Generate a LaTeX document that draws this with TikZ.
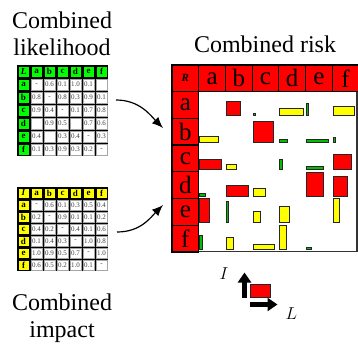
\documentclass[tikz,border=0pt]{standalone}
\usepackage{fontspec}
\setmainfont{Liberation Serif}
\usetikzlibrary{arrows.meta}
\definecolor{hdrgreen}{RGB}{0,255,0}
\definecolor{hdryellow}{RGB}{255,255,0}
\definecolor{riskred}{RGB}{255,0,0}
\definecolor{riskgreen}{RGB}{0,190,0}
\tikzset{
  >=latex,
  title/.style={font=\fontsize{24}{27}\selectfont, align=center, inner sep=0pt},
  tcell/.style={draw=gray!70, line width=.5pt, fill=white, inner sep=0pt,
    minimum width=11pt, minimum height=11pt, font=\fontsize{7}{8}\selectfont, text=black!75},
  thead/.style={tcell, draw=black, font=\fontsize{9}{10}\selectfont\bfseries, text=black},
  rhead/.style={draw=black, line width=1.2pt, fill=riskred, minimum size=26.7pt,
    inner sep=0pt, font=\fontsize{25}{27}\selectfont},
  bar/.style={draw=black!85, line width=.7pt},
  bigarrow/.style={line width=4.5pt, -{Triangle[length=10pt,width=13pt]}},
  linkarrow/.style={line width=1.2pt, -{Latex[length=11pt,width=9pt]}},
}

\begin{document}
\begin{tikzpicture}[x=1pt,y=-1pt]
  \useasboundingbox (0,0) rectangle (358,347);
  % titles
  \node[title, anchor=north] (lk-title) at (62,11.6) {Combined\\likelihood};
  \node[title, anchor=north] (im-title) at (62,293.6) {Combined\\impact};
  \node[title, anchor=base] (rk-title) at (265,53) {Combined risk};

  % likelihood table
  \fill (17,65) rectangle (108,156);
  \node[thead, fill=hdrgreen] (L-0-0) at (23.5,71.5) {\itshape L};
  \foreach \c [count=\j] in {a,...,f} {
    \node[thead, fill=hdrgreen] (L-0-\j) at ({23.5+13*\j},71.5) {\c};
    \node[thead, fill=hdrgreen] (L-\j-0) at (23.5,{71.5+13*\j}) {\c};
  }
  \foreach \row [count=\i] in {{-,0.6,0.1,1.0,0.1,{}},{0.8,-,0.8,0.3,0.9,0.1},
      {0.9,0.4,-,0.1,0.7,0.8},{{},0.9,0.5,{},0.7,0.6},
      {0.4,{},0.3,0.4,-,0.3},{0.1,0.3,0.9,0.3,0.2,-}}
    \foreach \v [count=\j] in \row
      \node[tcell] (L-\i-\j) at ({23.5+13*\j},{71.5+13*\i}) {\v};

  % impact table
  \fill (17,187) rectangle (108,271);
  \node[thead, fill=hdryellow, minimum height=10pt] (I-0-0) at (23.5,193) {\itshape I};
  \foreach \c [count=\j] in {a,...,f} {
    \node[thead, fill=hdryellow, minimum height=10pt] (I-0-\j) at ({23.5+13*\j},193) {\c};
    \node[thead, fill=hdryellow, minimum height=10pt] (I-\j-0) at (23.5,{193+12*\j}) {\c};
  }
  \foreach \row [count=\i] in {{-,0.6,0.1,0.3,0.5,0.4},{0.2,-,0.9,0.1,0.1,0.2},
      {0.4,0.2,-,0.4,0.1,0.6},{0.1,0.4,0.3,-,1.0,0.8},
      {1.0,0.9,0.5,0.7,-,1.0},{0.6,0.5,0.2,1.0,0.1,-}}
    \foreach \v [count=\j] in \row
      \node[tcell, minimum height=10pt] (I-\i-\j) at ({23.5+13*\j},{193+12*\i}) {\v};

  % risk matrix
  \draw[line width=1.2pt, draw=black!80, fill=white] (198.7,91.7) rectangle (357,251.5);
  \node[rhead, font=\fontsize{11}{12}\selectfont\bfseries\itshape] (R-0-0) at (185.35,78.35) {R};
  \foreach \c [count=\j] in {a,...,f} {
    \node[rhead] (R-0-\j) at ({185.35+26.7*\j},78.35) {\c};
    \node[rhead] (R-\j-0) at (185.35,{78.35+26.7*\j}) {\c};
  }
  \foreach \i/\j/\l/\m/\col in {1/2/.6/.6/riskred, 1/3/.1/.1/riskgreen, 1/4/1/.3/hdryellow,
      1/5/.1/.5/riskgreen, 1/6/.87/.38/hdryellow,
      2/1/.8/.24/hdryellow, 2/3/.84/.88/riskred, 2/4/.3/.12/riskgreen,
      2/5/.9/.12/riskgreen, 2/6/.1/.22/riskgreen,
      3/1/.9/.42/riskred, 3/2/.4/.22/hdryellow, 3/4/.1/.42/riskgreen,
      3/5/.72/.12/riskgreen, 3/6/.78/.62/riskred,
      4/1/.22/.12/riskgreen, 4/2/.9/.42/riskred, 4/3/.52/.32/hdryellow,
      4/5/.72/1/riskred, 4/6/.6/.8/riskred,
      5/1/.42/1/riskred, 5/2/.1/.9/riskgreen, 5/3/.3/.48/hdryellow,
      5/4/.4/.68/hdryellow, 5/6/.28/1/hdryellow,
      6/1/.1/.58/riskgreen, 6/2/.3/.48/hdryellow, 6/3/.9/.2/hdryellow,
      6/4/.28/1/hdryellow, 6/5/.22/.1/riskgreen}
    \draw[bar, fill=\col] ({172+26.7*\j+0.9},{91.7+26.7*\i-2.6}) rectangle +({24*\l},{-24*\m});

  % links
  \coordinate (lk-out) at (116,100);
  \coordinate (rk-in-a) at (163,128);
  \coordinate (im-out) at (117,232);
  \coordinate (rk-in-b) at (163,205);
  \draw[linkarrow] (lk-out) .. controls +(24,0) and +(-12,-12) .. (rk-in-a);
  \draw[linkarrow] (im-out) .. controls +(24,0) and +(-12,12) .. (rk-in-b);

  % legend
  \node[font=\fontsize{19}{20}\selectfont] (I-lbl) at (224,273.5) {$I$};
  \node[font=\fontsize{19}{20}\selectfont] (L-lbl) at (291.5,313.5) {$L$};
  \coordinate (I-from) at (244.5,297.5);
  \coordinate (I-to) at (244.5,272.5);
  \coordinate (L-from) at (250,304.5);
  \coordinate (L-to) at (277.5,304.5);
  \draw[bar, fill=riskred] (250.7,297.3) rectangle (270.7,284);
  \draw[bigarrow] (I-from) -- (I-to);
  \draw[bigarrow] (L-from) -- (L-to);
\end{tikzpicture}
\end{document}
